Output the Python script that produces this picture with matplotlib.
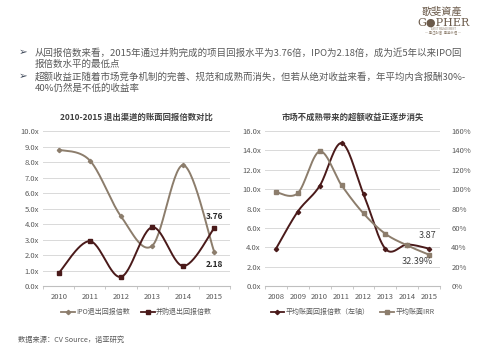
import numpy as np
import matplotlib
matplotlib.use("Agg")
import matplotlib.pyplot as plt

plt.rcParams['font.family'] = ['Noto Sans CJK SC', 'DejaVu Sans']

# left chart data
years_l = ['2010', '2011', '2012', '2013', '2014', '2015']
ipo_mult = [8.8, 8.1, 4.5, 2.6, 7.8, 2.18]
ma_mult = [0.85, 2.9, 0.6, 3.8, 1.3, 3.76]

# right chart data
years_r = ['2008', '2009', '2010', '2011', '2012', '2013', '2014', '2015']
avg_mult = [3.85, 7.7, 10.35, 14.75, 9.5, 3.85, 4.3, 3.87]
avg_irr = [97, 96, 139, 104, 75, 54, 42, 32.39]

light = '#8c7d6c'
dark = '#4a1a1a'
txt = '#595959'


def smooth(xs, ys, n=30):
    # excel style smoothed line (bezier with catmull-rom handles)
    xs = np.asarray(xs, float)
    ys = np.asarray(ys, float)
    pts = np.column_stack([xs, ys])
    out = []
    for i in range(len(pts) - 1):
        p0 = pts[max(i - 1, 0)]
        p1 = pts[i]
        p2 = pts[i + 1]
        p3 = pts[min(i + 2, len(pts) - 1)]
        c1 = p1 + (p2 - p0) / 6.0
        c2 = p2 - (p3 - p1) / 6.0
        t = np.linspace(0, 1, n)[:, None]
        seg = (1 - t) ** 3 * p1 + 3 * (1 - t) ** 2 * t * c1 + 3 * (1 - t) * t ** 2 * c2 + t ** 3 * p2
        out.append(seg if i == 0 else seg[1:])
    out = np.vstack(out)
    return out[:, 0], out[:, 1]


def style_axes(ax, labels):
    n = len(labels)
    ax.set_xlim(-0.5, n - 0.5)
    ax.set_xticks(range(n))
    ax.set_xticklabels(labels, fontsize=5.5, color=txt)
    ax.set_xticks(np.arange(-0.5, n, 1.0), minor=True)
    ax.tick_params(axis='x', which='major', length=0, pad=5)
    ax.tick_params(axis='x', which='minor', length=2.5, color='#bfbfbf', direction='out')
    ax.tick_params(axis='y', length=0, labelsize=5.5, labelcolor=txt, pad=3)
    for s in ['top', 'right', 'left']:
        ax.spines[s].set_visible(False)
    ax.spines['bottom'].set_color('#bfbfbf')
    ax.spines['bottom'].set_linewidth(0.8)
    ax.grid(axis='y', color='#d9d9d9', linewidth=0.7)
    ax.set_axisbelow(True)


fig = plt.figure(figsize=(4.8, 3.6), dpi=100)
fig.patch.set_facecolor('white')

# logo
fig.text(0.921, 0.966, '歌斐資產', ha='center', va='center', fontsize=7.3, color='#6b5a4a')
fig.text(0.923, 0.938, 'G●PHER', ha='center', va='center', fontsize=8, color='#6b5a4a',
         family=['DejaVu Serif', 'DejaVu Sans'])
fig.text(0.923, 0.919, 'ASSET MANAGEMENT', ha='center', va='center', fontsize=1.8, color='#8c7d6c')
fig.text(0.923, 0.907, '— 專注財富  專業永恆 —', ha='center', va='center', fontsize=2.4, color='#8c7d6c')

# bullets
b1 = '从回报倍数来看，2015年通过并购完成的项目回报水平为3.76倍，IPO为2.18倍，成为近5年以来IPO回\n报倍数水平的最低点'
b2 = '超额收益正随着市场竞争机制的完善、规范和成熟而消失，但若从绝对收益来看，年平均内含报酬30%-\n40%仍然是不低的收益率'
fig.text(0.048, 0.856, '➢', fontsize=7.5, color='#404a5a', va='center', ha='center',
         family=['DejaVu Sans'])
fig.text(0.073, 0.865, b1, fontsize=6.8, color=txt, va='top', linespacing=1.2)
fig.text(0.048, 0.79, '➢', fontsize=7.5, color='#404a5a', va='center', ha='center',
         family=['DejaVu Sans'])
fig.text(0.073, 0.799, b2, fontsize=6.8, color=txt, va='top', linespacing=1.2)

# left chart
ax1 = fig.add_axes([0.09, 0.205, 0.389, 0.431])
style_axes(ax1, years_l)
ax1.set_ylim(0, 10)
ax1.set_yticks(np.arange(0, 10.1, 1))
ax1.set_yticklabels([f'{v:.1f}x' for v in np.arange(0, 10.1, 1)])
x = np.arange(len(years_l))
sx, sy = smooth(x, ipo_mult)
ax1.plot(sx, sy, color=light, lw=1.4)
ax1.plot(x, ipo_mult, 'D', color=light, ms=2.2, ls='none')
sx, sy = smooth(x, ma_mult)
ax1.plot(sx, sy, color=dark, lw=1.4)
ax1.plot(x, ma_mult, 's', color=dark, ms=3.2, ls='none')
ax1.text(x[-1], ma_mult[-1] + 0.75, f'{ma_mult[-1]:.2f}', fontsize=6, fontweight='bold',
         color='#262626', ha='center', va='center')
ax1.text(x[-1], ipo_mult[-1] - 0.75, f'{ipo_mult[-1]:.2f}', fontsize=6, fontweight='bold',
         color='#262626', ha='center', va='center')
ax1.set_title('2010-2015 退出渠道的账面回报倍数对比', fontsize=6, fontweight='bold',
              color='#404040', pad=8)
h1, = ax1.plot([], [], color=light, lw=1.3, marker='D', ms=2.2)
h2, = ax1.plot([], [], color=dark, lw=1.3, marker='s', ms=3.2)
ax1.legend([h1, h2], ['IPO退出回报倍数', '并购退出回报倍数'], loc='upper center',
           bbox_to_anchor=(0.5, -0.1), ncol=2, frameon=False, fontsize=5,
           handlelength=2.0, handletextpad=0.2, columnspacing=1.5, labelcolor=txt)

# right chart
ax2 = fig.add_axes([0.552, 0.205, 0.365, 0.431])
style_axes(ax2, years_r)
ax2.set_ylim(0, 16)
ax2.set_yticks(np.arange(0, 16.1, 2))
ax2.set_yticklabels([f'{v:.1f}x' for v in np.arange(0, 16.1, 2)])
ax3 = ax2.twinx()
ax3.set_ylim(0, 160)
ax3.set_yticks(np.arange(0, 161, 20))
ax3.set_yticklabels([f'{v}%' for v in range(0, 161, 20)])
ax3.tick_params(axis='y', length=0, labelsize=5.5, labelcolor=txt, pad=8)
for s in ['top', 'right', 'left', 'bottom']:
    ax3.spines[s].set_visible(False)

xr = np.arange(len(years_r))
sx, sy = smooth(xr, avg_irr)
ax3.plot(sx, sy, color=light, lw=1.4)
ax3.plot(xr, avg_irr, 's', color=light, ms=3, ls='none')
sx, sy = smooth(xr, avg_mult)
ax2.plot(sx, sy, color=dark, lw=1.4, zorder=3)
ax2.plot(xr, avg_mult, 'D', color=dark, ms=2.2, ls='none', zorder=3)
ax2.text(xr[-1] - 0.1, avg_mult[-1] + 1.4, f'{avg_mult[-1]:.2f}', fontsize=6.5,
         color='#404040', ha='center', va='center')
ax3.text(xr[-1] - 0.55, avg_irr[-1] - 7, f'{avg_irr[-1]:.2f}%', fontsize=6.5,
         color='#404040', ha='center', va='center')
ax2.set_title('市场不成熟带来的超额收益正逐步消失', fontsize=6, fontweight='bold',
              color='#404040', pad=8)
h3, = ax2.plot([], [], color=dark, lw=1.3, marker='D', ms=2.2)
h4, = ax2.plot([], [], color=light, lw=1.3, marker='s', ms=3)
ax2.legend([h3, h4], ['平均账面回报倍数（左轴）', '平均账面IRR'], loc='upper center',
           bbox_to_anchor=(0.5, -0.1), ncol=2, frameon=False, fontsize=5,
           handlelength=2.0, handletextpad=0.2, columnspacing=1.5, labelcolor=txt)

fig.text(0.037, 0.055, '数据来源：CV Source，诺亚研究', fontsize=5.2, color=txt, va='center')

fig.savefig('out.png', dpi=100, facecolor='white')
